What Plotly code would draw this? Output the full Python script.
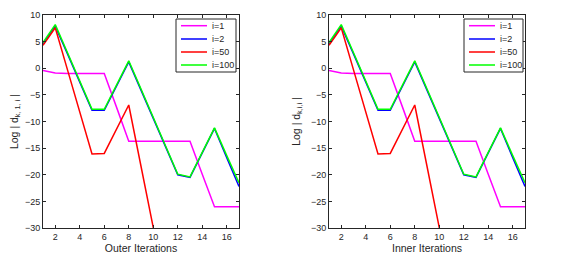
import plotly.graph_objects as go

iterations = list(range(1, 18))
series_names = ["i=1", "i=2", "i=50", "i=100"]
series_colors = ["#ff00ff", "#0000ff", "#ff0000", "#00ff00"]

i1 = [-0.4, -0.9, -1.0, -1.0, -1.0, -1.0, -7.3, -13.7, -13.7, -13.7, -13.7, -13.7, -13.7, -19.9, -26.0, -26.0, -26.0]
i2 = [4.6, 7.9, 2.7, -2.6, -7.9, -7.9, -3.4, 1.2, -4.1, -9.4, -14.7, -20.0, -20.5, -15.9, -11.3, -16.8, -22.2]
i50 = [4.3, 7.6, -0.3, -8.2, -16.1, -16.0, -11.4, -6.9, -18.4, -30.0, -41.5, -53.0, -64.5, -76.0, -87.5, -99.0, -110.5]
i100 = [4.8, 8.2, 2.9, -2.4, -7.7, -7.7, -3.2, 1.4, -3.9, -9.2, -14.6, -19.9, -20.4, -15.8, -11.2, -16.4, -21.5]
series_values = [i1, i2, i50, i100]

x_ticks = [2, 4, 6, 8, 10, 12, 14, 16]
y_ticks = [-30, -25, -20, -15, -10, -5, 0, 5, 10]

panel_xlabels = ["Outer Iterations", "Inner Iterations"]
panel_ylabels = ["Log | d<sub>k, 1, i</sub> |", "Log | d<sub>k,i,i</sub> |"]

FONT = "Liberation Sans, Arial, sans-serif"
TXT = "#262626"
# page body has an 8px default margin; work in figure pixel coordinates
OFF = 8
W, H = 554, 246


def px(v):
    return (v - OFF) / W


def py(v):
    return 1 - (v - OFF) / H


fig = go.Figure()

domains_x = [(px(43), px(239)), (px(329), px(525))]
domain_y = (py(228), py(15))

for p in range(2):
    xa = "x" if p == 0 else "x2"
    ya = "y" if p == 0 else "y2"
    for name, color, vals in zip(series_names, series_colors, series_values):
        fig.add_trace(go.Scatter(
            x=iterations, y=vals, mode="lines", name=name,
            line=dict(color=color, width=1.5),
            xaxis=xa, yaxis=ya, showlegend=False,
        ))

axis_common = dict(
    showline=True, linecolor=TXT, linewidth=1, mirror="allticks",
    ticks="inside", ticklen=3, tickcolor=TXT, showgrid=False, zeroline=False,
    tickfont=dict(family=FONT, size=9, color=TXT), automargin=False,
)

for p in range(2):
    sfx = "" if p == 0 else "2"
    fig.update_layout(**{
        "xaxis" + sfx: dict(
            axis_common, domain=domains_x[p], range=[1, 17], tickvals=x_ticks,
            anchor="y" + sfx,
            title=dict(text=panel_xlabels[p], standoff=1,
                       font=dict(family=FONT, size=10.5, color=TXT)),
        ),
        "yaxis" + sfx: dict(
            axis_common, domain=domain_y, range=[-30, 10], tickvals=y_ticks,
            anchor="x" + sfx,
            title=dict(text=panel_ylabels[p], standoff=8,
                       font=dict(family=FONT, size=10.5, color=TXT)),
        ),
    })

# Manual legends (MATLAB-style compact boxes)
legend_boxes = [(176, 236), (464, 523)]
row_ys = [25.7, 39.0, 52.0, 65.0]
shapes = []
annotations = []
for (bx0, bx1) in legend_boxes:
    shapes.append(dict(type="rect", xref="paper", yref="paper",
                       x0=px(bx0), x1=px(bx1), y0=py(72), y1=py(19),
                       line=dict(color=TXT, width=1), fillcolor="white", layer="above"))
    for name, color, ry in zip(series_names, series_colors, row_ys):
        shapes.append(dict(type="line", xref="paper", yref="paper",
                           x0=px(bx0 + 5), x1=px(bx0 + 31),
                           y0=py(ry), y1=py(ry),
                           line=dict(color=color, width=1.5), layer="above"))
        annotations.append(dict(xref="paper", yref="paper", x=px(bx0 + 34), y=py(ry),
                                text=name, showarrow=False, xanchor="left", yanchor="middle",
                                font=dict(family=FONT, size=9, color=TXT)))

fig.update_layout(
    shapes=shapes, annotations=annotations,
    showlegend=False,
    width=W, height=H,
    margin=dict(l=0, r=0, t=0, b=0),
    paper_bgcolor="white", plot_bgcolor="white",
    font=dict(family=FONT),
)

fig.write_html("out.html")
